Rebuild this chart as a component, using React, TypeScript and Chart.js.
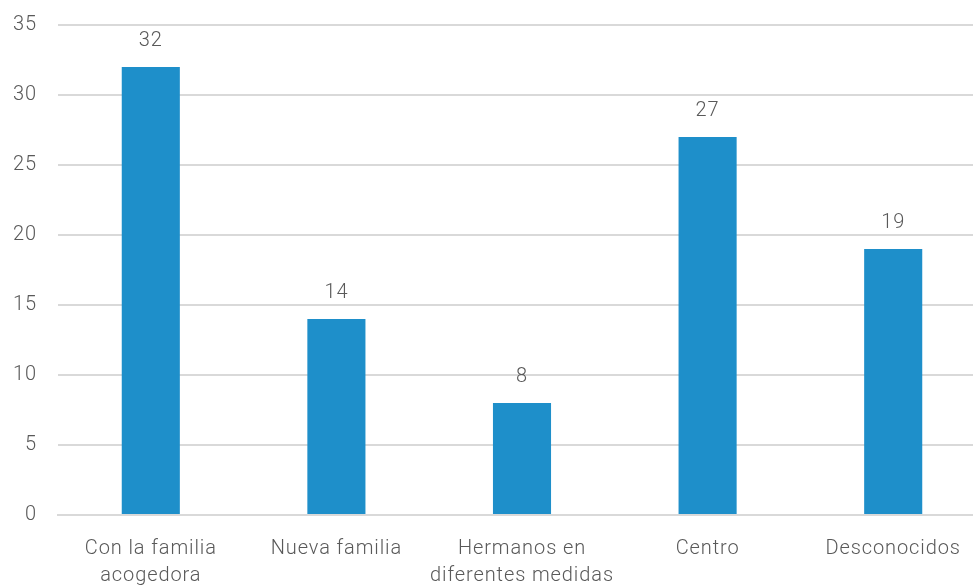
import React, { useEffect, useRef } from "react";
import { Chart, registerables } from "chart.js";

Chart.register(...registerables);

const categories: (string | string[])[] = [
  ["Con la familia", "acogedora"],
  "Nueva familia",
  ["Hermanos en", "diferentes medidas"],
  "Centro",
  "Desconocidos",
];
const values: number[] = [32, 14, 8, 27, 19];
const yTicks = { min: 0, max: 35, step: 5 };

const FONT = "Roboto";
const TEXT = "#595959";
const BAR = "#1E8FCA";
const GRID = "#D9D9D9";
const SPACING = "0.9px";

const valueLabels = {
  id: "valueLabels",
  beforeDraw(chart: any) {
    (chart.ctx as any).letterSpacing = SPACING;
  },
  afterDatasetsDraw(chart: any) {
    const ctx = chart.ctx;
    const meta = chart.getDatasetMeta(0);
    ctx.save();
    ctx.font = `300 20px ${FONT}`;
    ctx.fillStyle = TEXT;
    ctx.textAlign = "center";
    ctx.textBaseline = "middle";
    meta.data.forEach((el: any, i: number) => {
      ctx.fillText(String(values[i]), el.x, el.y - 26);
    });
    ctx.restore();
  },
};

export default function App() {
  const ref = useRef<HTMLCanvasElement | null>(null);
  useEffect(() => {
    if (!ref.current) return;
    const chart = new Chart(ref.current, {
      type: "bar",
      data: {
        labels: categories,
        datasets: [
          {
            data: values,
            backgroundColor: BAR,
            barPercentage: 0.313,
            categoryPercentage: 1,
          },
        ],
      },
      options: {
        animation: false,
        responsive: false,
        devicePixelRatio: 1,
        layout: { padding: { top: 25, right: 14, left: 0, bottom: 0 } },
        plugins: { legend: { display: false }, tooltip: { enabled: false } },
        scales: {
          x: {
            afterFit(scale: any) {
              scale.height = 70;
              scale.paddingLeft = 0;
              scale.paddingRight = 0;
            },
            grid: { display: false, drawTicks: false },
            border: { color: GRID, width: 2 },
            ticks: {
              color: TEXT,
              padding: 20,
              maxRotation: 0,
              autoSkip: false,
              font: { family: FONT, size: 20, weight: "300", lineHeight: 1.35 },
            },
          },
          y: {
            min: yTicks.min,
            max: yTicks.max,
            afterFit(scale: any) {
              scale.width = 58;
              scale.paddingTop = 0;
              scale.paddingBottom = 0;
            },
            grid: { color: GRID, lineWidth: 2, drawTicks: false },
            border: { display: false },
            ticks: {
              stepSize: yTicks.step,
              color: TEXT,
              padding: 21,
              font: { family: FONT, size: 20, weight: "300" },
            },
          },
        },
      },
      plugins: [valueLabels],
    });
    return () => chart.destroy();
  }, []);
  return (
    <div
      style={{
        position: "fixed",
        left: 0,
        top: 0,
        width: 973,
        height: 585,
        overflow: "hidden",
        background: "#fff",
      }}
    >
      <canvas ref={ref} width={1000} height={585} style={{ display: "block" }} />
    </div>
  );
}
